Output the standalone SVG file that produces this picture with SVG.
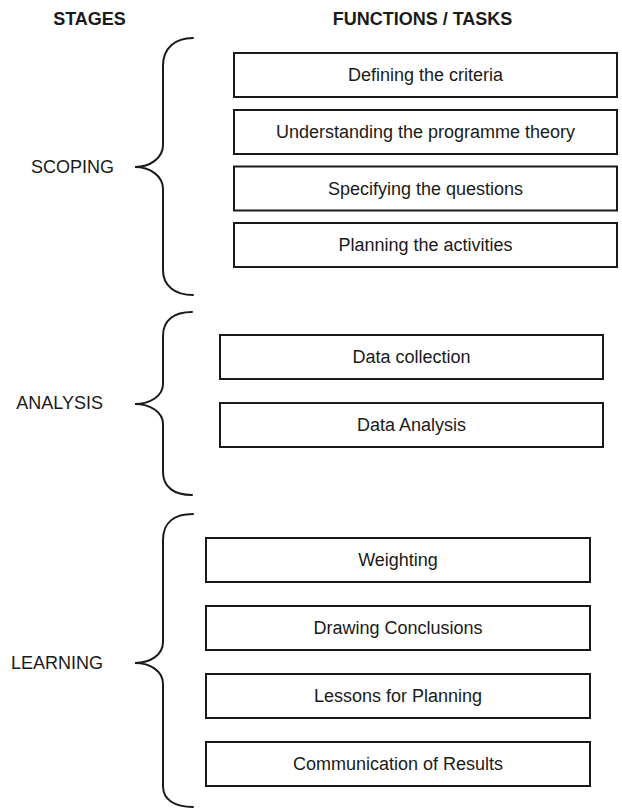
<svg xmlns="http://www.w3.org/2000/svg" width="622" height="809" viewBox="0 0 622 809">
  <style>
    .bg { fill: #ffffff; }
    .box { fill: #ffffff; stroke: #1a1a1a; stroke-width: 2; }
    .brace { fill: none; stroke: #1a1a1a; stroke-width: 2; stroke-linecap: round; }
    .head { font-family: "Liberation Sans", Arial, sans-serif; font-size: 18px; font-weight: bold; fill: #1a1a1a; text-anchor: middle; }
    .stage { font-family: "Liberation Sans", Arial, sans-serif; font-size: 18px; fill: #1a1a1a; text-anchor: end; }
    .task { font-family: "Liberation Sans", Arial, sans-serif; font-size: 18px; fill: #1a1a1a; text-anchor: middle; }
  </style>
  <rect class="bg" x="0" y="0" width="622" height="809"/>

  <!-- column headings -->
  <text class="head" x="89.5" y="25">STAGES</text>
  <text class="head" x="422.5" y="25">FUNCTIONS / TASKS</text>

  <!-- stage braces -->
  <g id="connectors">
    <path class="brace" d="M193,38 C175,38 163,48 163,66 L163,145 C163,158 150,167 135,167 C150,167 163,176 163,189 L163,270 C163,286 175,295 193,295"/>
    <path class="brace" d="M192,312 C174,312 163,320 163,336 L163,384 C163,396 150,404 135,404 C150,404 163,412 163,424 L163,472 C163,487 174,495 192,495"/>
    <path class="brace" d="M193,514 C175,514 163,522 163,540 L163,642 C163,655 150,663 135,663 C150,663 163,671 163,684 L163,786 C163,800 175,807 193,807"/>
  </g>

  <!-- stages -->
  <g id="stage-scoping"><text class="stage" x="114" y="173">SCOPING</text></g>
  <g id="stage-analysis"><text class="stage" x="103" y="409">ANALYSIS</text></g>
  <g id="stage-learning"><text class="stage" x="103" y="669">LEARNING</text></g>

  <!-- scoping tasks -->
  <g id="task-criteria">
    <rect class="box" x="234" y="53" width="383" height="44"/>
    <text class="task" x="425.5" y="81">Defining the criteria</text>
  </g>
  <g id="task-theory">
    <rect class="box" x="234" y="110" width="383" height="44"/>
    <text class="task" x="425.5" y="138">Understanding the programme theory</text>
  </g>
  <g id="task-questions">
    <rect class="box" x="234" y="166.5" width="383" height="44"/>
    <text class="task" x="425.5" y="194.5">Specifying the questions</text>
  </g>
  <g id="task-activities">
    <rect class="box" x="234" y="223" width="383" height="44"/>
    <text class="task" x="425.5" y="251">Planning the activities</text>
  </g>

  <!-- analysis tasks -->
  <g id="task-collection">
    <rect class="box" x="220" y="335" width="383" height="44"/>
    <text class="task" x="411.5" y="363">Data collection</text>
  </g>
  <g id="task-data-analysis">
    <rect class="box" x="220" y="403" width="383" height="44"/>
    <text class="task" x="411.5" y="431">Data Analysis</text>
  </g>

  <!-- learning tasks -->
  <g id="task-weighting">
    <rect class="box" x="206" y="538" width="384" height="44"/>
    <text class="task" x="398" y="566">Weighting</text>
  </g>
  <g id="task-conclusions">
    <rect class="box" x="206" y="606" width="384" height="44"/>
    <text class="task" x="398" y="634">Drawing Conclusions</text>
  </g>
  <g id="task-lessons">
    <rect class="box" x="206" y="674" width="384" height="44"/>
    <text class="task" x="398" y="702">Lessons for Planning</text>
  </g>
  <g id="task-communication">
    <rect class="box" x="206" y="742" width="384" height="44"/>
    <text class="task" x="398" y="770">Communication of Results</text>
  </g>
</svg>
